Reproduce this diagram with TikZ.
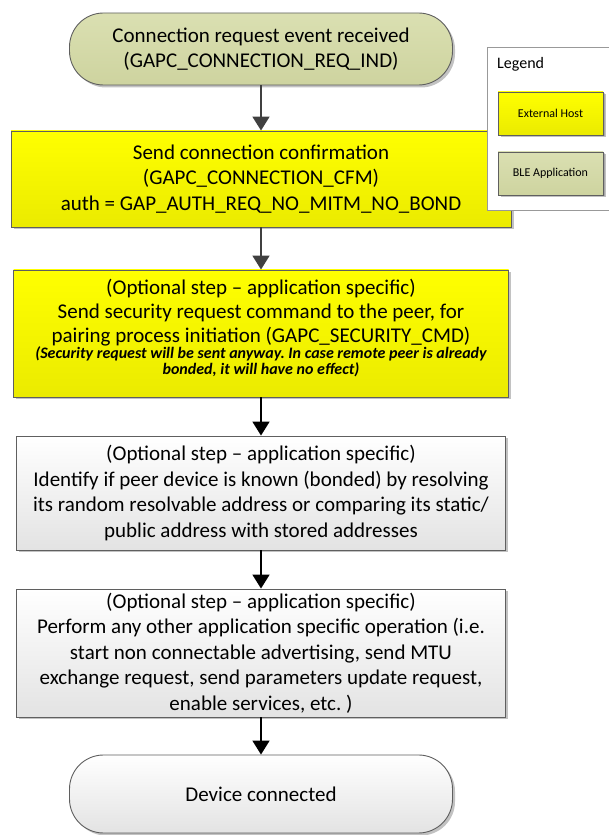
\documentclass[tikz,border=0pt]{standalone}
\usepackage{fontspec}
\setmainfont{Carlito}
\usepackage{tikz}
\usetikzlibrary{arrows.meta,shadows}
\frenchspacing

\definecolor{hostyellow}{RGB}{255,255,0}
\definecolor{bleolive}{RGB}{212,218,164}
\definecolor{edgegray}{RGB}{95,95,95}
\definecolor{arrowgray}{RGB}{64,64,64}

\tikzset{
  stepbox/.style={draw=edgegray, line width=0.9pt, align=flush center, inner sep=0pt,
    drop shadow={shadow xshift=2.5pt, shadow yshift=-2.5pt, fill=black!60, opacity=0.4}},
  hostbox/.style={stepbox, top color=hostyellow, bottom color=hostyellow!92!black},
  appbox/.style={stepbox, top color=white, bottom color=black!11},
  olivebox/.style={stepbox, top color=bleolive!85!white, bottom color=bleolive!97!black},
  pill/.style={rounded corners=34pt, minimum width=383pt},
  flow/.style={line width=1.8pt, -{Triangle[width=17pt,length=14pt]}},
  bodytext/.style={font=\fontsize{21}{25.5}\selectfont},
  keybox/.style={minimum width=105pt, minimum height=43pt, font=\fontsize{12}{14}\selectfont,
    drop shadow={shadow xshift=1.5pt, shadow yshift=-1.5pt, fill=black!50, opacity=0.4}},
}
\newcommand{\smallnote}{\fontsize{16}{16}\selectfont\bfseries\itshape}

\begin{document}
\begin{tikzpicture}[x=1pt,y=1pt]
  \useasboundingbox (0,0) rectangle (609,835);
  % Flow steps
  \node[olivebox, pill, minimum height=72pt, bodytext, text width=375pt] (start) at (261,786)
    {Connection request event received\\(GAPC\_CONNECTION\_REQ\_IND)};
  \node[hostbox, minimum width=500pt, minimum height=96pt, bodytext, text width=495pt] (confirm) at (261,656)
    {Send connection confirmation\\(GAPC\_CONNECTION\_CFM)\\auth = GAP\_AUTH\_REQ\_NO\_MITM\_NO\_BOND};
  \node[hostbox, minimum width=495pt, minimum height=127pt, font=\fontsize{21}{24}\selectfont,
    text width=490pt] (secreq) at (261,501.5)
    {(Optional step -- application specific)\\Send security request command to the peer, for\\
     pairing process initiation (GAPC\_SECURITY\_CMD)\par
     {\smallnote (Security request will be sent anyway. In case remote peer is already\\
     bonded, it will have no effect)\par}\hrule height 10pt width 0pt};
  \node[appbox, minimum width=489pt, minimum height=114pt, bodytext, text width=486pt] (identify) at (261,342)
    {(Optional step -- application specific)\\Identify if peer device is known (bonded) by resolving\\
     its random resolvable address or comparing its static/\\public address with stored addresses};
  \node[appbox, minimum width=489pt, minimum height=128pt, bodytext, text width=486pt] (perform) at (261,182)
    {(Optional step -- application specific)\\Perform any other application specific operation (i.e.\\
     start non connectable advertising, send MTU\\exchange request, send parameters update request,\\
     enable services, etc. )};
  \node[appbox, pill, minimum height=78pt, bodytext, text width=375pt] (done) at (261,41)
    {Device connected};
  % Arrows
  \draw[flow, arrowgray] (start) -- (confirm);
  \draw[flow, arrowgray] (confirm) -- (secreq);
  \draw[flow] (secreq) -- (identify);
  \draw[flow] (identify) -- (perform);
  \draw[flow] (perform) -- (done);
  % Legend
  \node[draw=black!40, fill=white, line width=0.7pt, minimum width=122pt, minimum height=163pt, inner sep=0pt] (legend) at (548,706.5) {};
  \node[anchor=west, inner sep=0pt, font=\fontsize{16}{18}\selectfont] (legendtitle) at (497,771) {Legend};
  \node[hostbox, keybox] (hostkey) at (550.5,721.5) {External Host};
  \node[olivebox, keybox] (blekey) at (550.5,661.5) {BLE Application};
\end{tikzpicture}
\end{document}
